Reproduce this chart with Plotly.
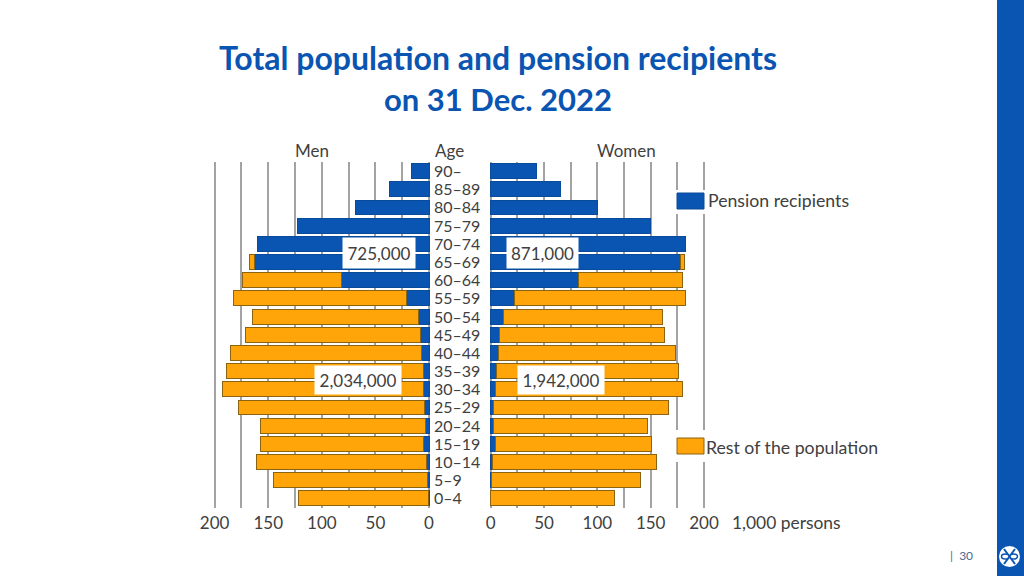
import plotly.graph_objects as go

# values in 1,000 persons, oldest age group first
ages = ['90–', '85–89', '80–84', '75–79', '70–74', '65–69', '60–64', '55–59', '50–54', '45–49',
        '40–44', '35–39', '30–34', '25–29', '20–24', '15–19', '10–14', '5–9', '0–4']
men_pension = [16, 37, 69, 123, 160.5, 163, 82, 21, 10, 7.5, 7, 5.3, 5.3, 4, 3.4, 4.7, 2.5, 1, 0.3]
men_rest = [None, None, None, None, None, 4.6, 92, 161, 155, 164, 178, 183.7, 187.2, 173.5, 153.6, 152.3, 158.9, 144.5, 121.3]
women_pension = [43, 65, 100, 150, 182.5, 177.5, 82, 22, 12, 8, 7, 5.3, 4.4, 3, 2.8, 4.4, 2, 1, 0.3]
women_rest = [None, None, None, None, None, 4.5, 98, 160.5, 149, 155, 166, 170.3, 175.3, 164, 143.8, 146.6, 153, 139, 115.7]
tick_vals = [0, 25, 50, 75, 100, 125, 150, 175, 200]
tick_text = ['0', '', '50', '', '100', '', '150', '', '200']

BLUE = '#0a55b1'
ORANGE = '#ffa409'
TEXT = '#404040'
FONT = 'Lato'
W, H = 1024, 576


def px(x):
    return x / W


def py(y):
    return 1 - y / H


def label(x, y, text, size=17, color=TEXT, anchor='center', **kw):
    return dict(x=px(x), y=py(y), xref='paper', yref='paper', text=text, showarrow=False,
                xanchor=anchor, yanchor='middle', font=dict(family=FONT, size=size, color=color), **kw)


def rect(x0, y0, x1, y1, fill, line=None):
    return dict(type='rect', xref='paper', yref='paper', x0=px(x0), x1=px(x1), y0=py(y0), y1=py(y1),
                fillcolor=fill, line=dict(color=line, width=1) if line else dict(width=0), layer='above')


fig = go.Figure()
for xaxis, pension, rest in [('x', men_pension, men_rest), ('x2', women_pension, women_rest)]:
    fig.add_trace(go.Bar(y=ages, x=pension, orientation='h', xaxis=xaxis, yaxis='y', marker_color=BLUE,
                         marker_line=dict(color='#0a4a9a', width=1), showlegend=False))
    fig.add_trace(go.Bar(y=ages, x=rest, orientation='h', xaxis=xaxis, yaxis='y', marker_color=ORANGE,
                         marker_line=dict(color='#8a6410', width=1), showlegend=False))

# age labels get their own little subplot in the gap between the two halves
fig.add_trace(go.Scatter(x=[0] * len(ages), y=ages, mode='text', text=ages, textposition='middle right',
                         xaxis='x3', yaxis='y2', cliponaxis=False, showlegend=False, hoverinfo='skip',
                         textfont=dict(family=FONT, size=16, color=TEXT)))

axis_style = dict(tickvals=tick_vals, ticktext=tick_text, showgrid=True, gridcolor='#a3a3a3', gridwidth=1.5,
                  zeroline=False, showline=False, ticks='', ticklabelstandoff=3, anchor='y', automargin=False,
                  tickfont=dict(family=FONT, size=17, color=TEXT))
y_style = dict(categoryorder='array', categoryarray=ages[::-1], automargin=False, range=[-0.5, 18.5],
               showticklabels=False, showgrid=False, zeroline=False, ticks='')

annotations = [
    label(498, 58, '<b>Total population and pension recipients</b>', size=32, color=BLUE),
    label(497.5, 99, '<b>on 31 Dec. 2022</b>', size=31, color=BLUE),
    label(311.5, 150, 'Men'),
    label(449, 150, 'Age'),
    label(626, 150, 'Women'),
    label(730, 522, '1,000 persons', size=17.4, anchor='left'),
    label(706, 201, 'Pension recipients', size=17.7, anchor='left'),
    label(704, 447, 'Rest of the population', size=17.7, anchor='left'),
    label(379, 253, '725,000', bgcolor='white', width=70, height=28),
    label(542.5, 253, '871,000', bgcolor='white', width=69, height=28),
    label(358, 380, '2,034,000', bgcolor='white', width=84, height=26),
    label(561, 380, '1,942,000', bgcolor='white', width=84, height=26),
    label(961, 555, '|  30', size=12, color='#4a6a94'),
]

shapes = [
    rect(672, 190, 710, 214, 'white'),
    rect(677, 193, 704, 209, BLUE, '#0a4a9a'),
    rect(672, 430, 710, 462, 'white'),
    rect(677, 438, 704, 454, ORANGE, '#8a6410'),
    rect(997, 0, 1024, 576, BLUE),
    dict(type='circle', xref='paper', yref='paper', x0=px(999), x1=px(1020), y0=py(546), y1=py(567),
         fillcolor='white', line=dict(width=0), layer='above'),
]
# logo strokes
for x0, y0, x1, y1 in [(1004, 549, 1015, 564), (1015, 549, 1004, 564)]:
    shapes.append(dict(type='line', xref='paper', yref='paper', x0=px(x0), x1=px(x1), y0=py(y0), y1=py(y1),
                       line=dict(color=BLUE, width=2), layer='above'))
for x0, x1 in [(1001.5, 1009), (1010, 1017.5)]:
    shapes.append(dict(type='circle', xref='paper', yref='paper', x0=px(x0), x1=px(x1), y0=py(554), y1=py(559),
                       fillcolor='white', line=dict(color=BLUE, width=1.5), layer='above'))

fig.update_layout(
    width=W, height=H, margin=dict(l=0, r=0, t=0, b=0),
    plot_bgcolor='white', paper_bgcolor='white',
    barmode='stack', bargap=0.18, showlegend=False,
    xaxis=dict(domain=[px(213.6), px(430.1)], range=[201, -1], **axis_style),
    xaxis2=dict(domain=[px(489.6), px(705.1)], range=[-1, 201], **axis_style),
    xaxis3=dict(domain=[px(434), px(488)], range=[0, 1], anchor='y2', visible=False, automargin=False),
    yaxis=dict(domain=[py(507.5), py(162)], **y_style),
    yaxis2=dict(domain=[py(509.5), py(164)], anchor='x3', visible=False, **y_style),
    annotations=annotations, shapes=shapes,
)

fig.write_html('out.html', config=dict(displayModeBar=False),
               post_script="document.body.style.margin='0';document.documentElement.style.overflow='hidden';")
